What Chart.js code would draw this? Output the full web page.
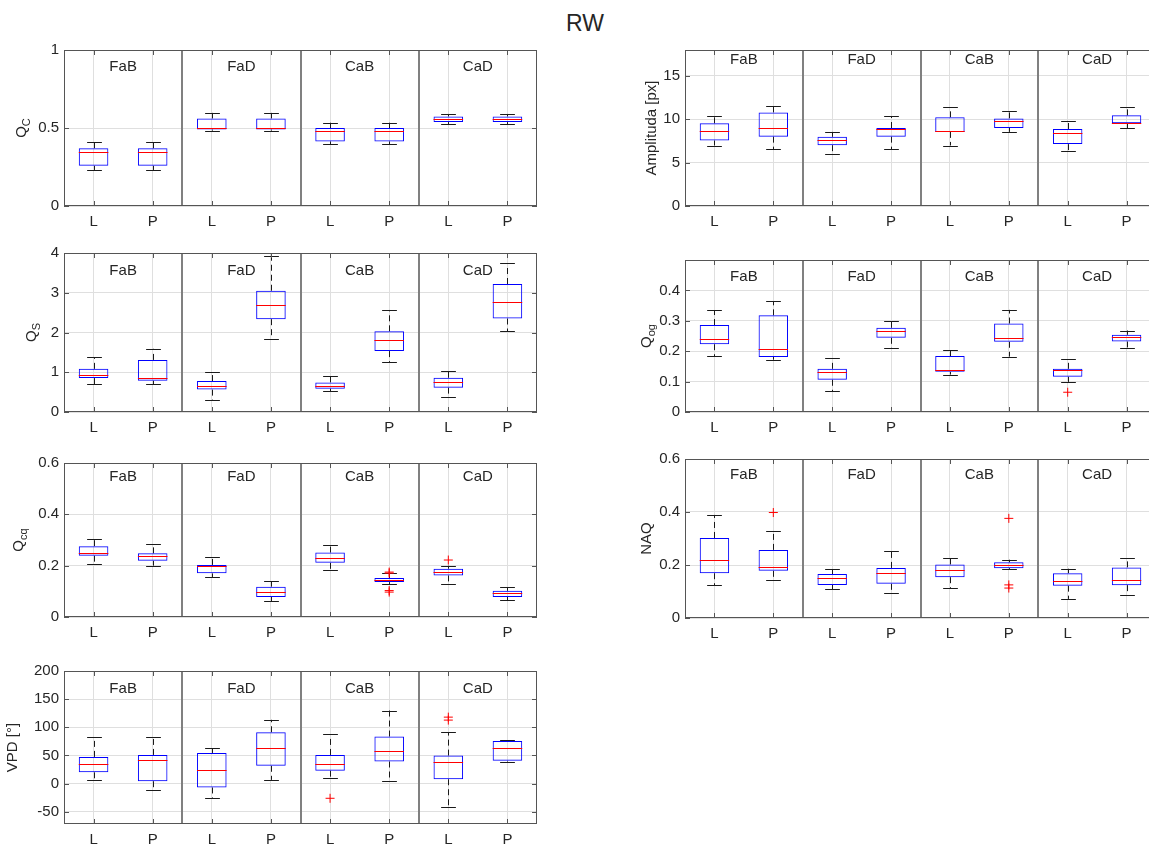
<!DOCTYPE html>
<html><head><meta charset="utf-8">
<script src="https://cdn.jsdelivr.net/npm/chart.js@4"></script>
<style>
html,body{margin:0;padding:0;width:1149px;height:845px;overflow:hidden;background:#fff;}
.pane{position:absolute;}
#title{position:absolute;left:485px;top:12px;width:200px;text-align:center;font:23px 'Liberation Sans',Arial,sans-serif;line-height:23px;color:#262626;}
</style></head><body>
<div id="title">RW</div>
<script>
// ---------- data ----------
const groups = ['FaB','FaD','CaB','CaD'];
const tickLabels = ['L','P','L','P','L','P','L','P'];

// Q_C
const qcTicks = [0, 0.5, 1];
const qcLow  = [0.231,0.231,0.483,0.483,0.397,0.397,0.525,0.525];
const qcQ1   = [0.258,0.258,0.490,0.490,0.414,0.414,0.538,0.538];
const qcMed  = [0.345,0.345,0.500,0.500,0.483,0.483,0.559,0.559];
const qcQ3   = [0.370,0.370,0.561,0.561,0.500,0.500,0.574,0.574];
const qcHigh = [0.410,0.410,0.597,0.597,0.534,0.534,0.590,0.590];
const qcOut  = [];

// Amplituda
const ampTicks = [0, 5, 10, 15];
const ampLow  = [6.98,6.53,6.03,6.53,6.98,8.55,6.37,9.00];
const ampQ1   = [7.56,8.00,7.02,8.00,8.55,9.00,7.14,9.54];
const ampMed  = [8.63,9.00,7.56,8.85,8.63,9.77,8.40,9.58];
const ampQ3   = [9.54,10.80,7.98,9.00,10.23,10.11,8.89,10.46];
const ampHigh = [10.34,11.49,8.55,10.34,11.37,10.99,9.80,11.37];
const ampOut  = [];

// Q_S
const qsTicks = [0, 1, 2, 3, 4];
const qsLow  = [0.704,0.704,0.298,1.84,0.522,1.259,0.389,2.037];
const qsQ1   = [0.853,0.787,0.563,2.335,0.588,1.532,0.613,2.352];
const qsMed  = [0.936,0.845,0.646,2.70,0.663,1.805,0.762,2.774];
const qsQ3   = [1.085,1.31,0.778,3.05,0.745,2.03,0.861,3.22];
const qsHigh = [1.375,1.59,1.0,3.925,0.911,2.567,1.035,3.743];
const qsOut  = [];

// Q_og
const qogTicks = [0, 0.1, 0.2, 0.3, 0.4];
const qogLow  = [0.184,0.172,0.069,0.210,0.123,0.182,0.099,0.212];
const qogQ1   = [0.223,0.181,0.106,0.244,0.132,0.231,0.116,0.232];
const qogMed  = [0.239,0.206,0.130,0.265,0.138,0.242,0.137,0.248];
const qogQ3   = [0.286,0.318,0.142,0.277,0.184,0.291,0.142,0.254];
const qogHigh = [0.335,0.365,0.177,0.300,0.205,0.336,0.173,0.268];
const qogOut  = [[7,0.065]];

// Q_cq
const qcqTicks = [0, 0.2, 0.4, 0.6];
const qcqLow  = [0.208,0.200,0.156,0.061,0.183,0.127,0.129,0.065];
const qcqQ1   = [0.239,0.219,0.170,0.078,0.211,0.136,0.162,0.078];
const qcqMed  = [0.249,0.238,0.197,0.098,0.228,0.143,0.176,0.092];
const qcqQ3   = [0.276,0.248,0.203,0.118,0.251,0.152,0.188,0.102];
const qcqHigh = [0.304,0.283,0.233,0.139,0.280,0.171,0.200,0.116];
const qcqOut  = [[6,0.175],[6,0.171],[6,0.103],[6,0.097],[7,0.222]];

// NAQ
const naqTicks = [0, 0.2, 0.4, 0.6];
const naqLow  = [0.124,0.142,0.108,0.093,0.113,0.184,0.072,0.087];
const naqQ1   = [0.169,0.178,0.125,0.129,0.154,0.188,0.122,0.124];
const naqMed  = [0.217,0.194,0.152,0.170,0.183,0.199,0.139,0.142];
const naqQ3   = [0.302,0.257,0.166,0.189,0.202,0.210,0.169,0.191];
const naqHigh = [0.389,0.327,0.185,0.252,0.226,0.220,0.186,0.227];
const naqOut  = [[2,0.398],[6,0.376],[6,0.125],[6,0.113]];

// VPD
const vpdTicks = [-50, 0, 50, 100, 150, 200];
const vpdLow  = [7.0,-12.3,-26.3,6.4,9.3,5.3,-41.5,39.1];
const vpdQ1   = [19.9,4.1,-7.0,31.5,22.8,39.1,7.6,40.3];
const vpdMed  = [35.0,42.1,24.5,63.7,35.0,57.2,37.4,63.1];
const vpdQ3   = [47.3,50.8,54.3,91.1,50.8,83.5,49.6,75.4];
const vpdHigh = [81.8,82.4,62.5,113.3,87.6,129.7,91.1,77.1];
const vpdOut  = [[5,-26.3],[7,118.0],[7,112.7]];

// ---------- layout ----------
const FONT = "'Liberation Sans', Arial, sans-serif";
const TXT = '#262626';
Chart.defaults.font.family = FONT;

const panels = [
 {left:64, top:48, w:473, h:158, yMin:0, yMax:1, yTicks:qcTicks, lab:['Q','C'], gap:38.5, gy:0.89,
  low:qcLow,q1:qcQ1,med:qcMed,q3:qcQ3,high:qcHigh,out:qcOut},
 {left:685, top:48, w:471, h:158, yMin:0, yMax:18, yTicks:ampTicks, lab:['Amplituda [px]',''], gap:29, gy:16.9,
  low:ampLow,q1:ampQ1,med:ampMed,q3:ampQ3,high:ampHigh,out:ampOut},
 {left:64, top:251, w:473, h:161, yMin:0, yMax:4, yTicks:qsTicks, lab:['Q','S'], gap:28, gy:3.55,
  low:qsLow,q1:qsQ1,med:qsMed,q3:qsQ3,high:qsHigh,out:qsOut},
 {left:685, top:258, w:471, h:154, yMin:0, yMax:0.5, yTicks:qogTicks, lab:['Q','og'], gap:34, gy:0.445,
  low:qogLow,q1:qogQ1,med:qogMed,q3:qogQ3,high:qogHigh,out:qogOut},
 {left:64, top:461, w:473, h:156, yMin:0, yMax:0.6, yTicks:qcqTicks, lab:['Q','cq'], gap:41, gy:0.545,
  low:qcqLow,q1:qcqQ1,med:qcqMed,q3:qcqQ3,high:qcqHigh,out:qcqOut},
 {left:685, top:457, w:471, h:161, yMin:0, yMax:0.6, yTicks:naqTicks, lab:['NAQ',''], gap:34, gy:0.54,
  low:naqLow,q1:naqQ1,med:naqMed,q3:naqQ3,high:naqHigh,out:naqOut},
 {left:64, top:669, w:473, h:155, yMin:-72, yMax:200, yTicks:vpdTicks, lab:['VPD [°]',''], gap:47, gy:168,
  low:vpdLow,q1:vpdQ1,med:vpdMed,q3:vpdQ3,high:vpdHigh,out:vpdOut}
];

const PADT = 12, PADR = 12, YW = 64, XH = 40;

function makePlugin(p) {
  return {
    id: 'boxextras',
    beforeDatasetsDraw(chart) {
      const {ctx, chartArea:a, scales:{x, y}} = chart;
      ctx.save();
      // group separators
      ctx.strokeStyle = '#808080'; ctx.lineWidth = 2;
      [2.5, 4.5, 6.5].forEach(v => {
        const px = Math.round(x.getPixelForValue(v));
        ctx.beginPath(); ctx.moveTo(px, a.top); ctx.lineTo(px, a.bottom); ctx.stroke();
      });
      // whiskers
      ctx.strokeStyle = '#1a1a1a'; ctx.lineWidth = 1;
      p.low.forEach((lo, i) => {
        const v = i + 1;
        const cx = Math.round(x.getPixelForValue(v)) + 0.5;
        const hw = x.getPixelForValue(v + 0.125) - x.getPixelForValue(v);
        const yl = y.getPixelForValue(lo), yq1 = y.getPixelForValue(p.q1[i]);
        const yq3 = y.getPixelForValue(p.q3[i]), yh = y.getPixelForValue(p.high[i]);
        ctx.setLineDash([6, 4]);
        ctx.beginPath(); ctx.moveTo(cx, yq3); ctx.lineTo(cx, yh); ctx.stroke();
        ctx.beginPath(); ctx.moveTo(cx, yq1); ctx.lineTo(cx, yl); ctx.stroke();
        ctx.setLineDash([]);
        ctx.beginPath(); ctx.moveTo(cx - hw, Math.round(yh) + 0.5); ctx.lineTo(cx + hw, Math.round(yh) + 0.5); ctx.stroke();
        ctx.beginPath(); ctx.moveTo(cx - hw, Math.round(yl) + 0.5); ctx.lineTo(cx + hw, Math.round(yl) + 0.5); ctx.stroke();
      });
      ctx.restore();
    },
    afterDatasetsDraw(chart) {
      const {ctx, chartArea:a, scales:{x, y}} = chart;
      ctx.save();
      // medians
      ctx.strokeStyle = '#ff0000'; ctx.lineWidth = 1;
      p.med.forEach((m, i) => {
        const v = i + 1;
        const py = Math.round(y.getPixelForValue(m)) + 0.5;
        ctx.beginPath(); ctx.moveTo(x.getPixelForValue(v - 0.25), py); ctx.lineTo(x.getPixelForValue(v + 0.25), py); ctx.stroke();
      });
      // frame
      ctx.strokeStyle = '#555555'; ctx.lineWidth = 1;
      ctx.strokeRect(a.left + 0.5, a.top + 0.5, a.right - a.left - 1, a.bottom - a.top - 1);
      // inward tick marks
      ctx.beginPath();
      p.yTicks.forEach(t => {
        const py = Math.round(y.getPixelForValue(t)) + 0.5;
        ctx.moveTo(a.left, py); ctx.lineTo(a.left + 5, py);
        ctx.moveTo(a.right, py); ctx.lineTo(a.right - 5, py);
      });
      tickLabels.forEach((t, i) => {
        const px = Math.round(x.getPixelForValue(i + 1)) + 0.5;
        ctx.moveTo(px, a.bottom); ctx.lineTo(px, a.bottom - 5);
        ctx.moveTo(px, a.top); ctx.lineTo(px, a.top + 5);
      });
      ctx.stroke();
      // group labels
      ctx.fillStyle = TXT; ctx.font = '15px ' + FONT;
      ctx.textAlign = 'center'; ctx.textBaseline = 'middle';
      groups.forEach((g, k) => {
        ctx.fillText(g, x.getPixelForValue(2 * k + 1.5), y.getPixelForValue(p.gy));
      });
      // y-axis label with subscript
      ctx.translate(a.left - p.gap, (a.top + a.bottom) / 2);
      ctx.rotate(-Math.PI / 2);
      ctx.textAlign = 'left'; ctx.textBaseline = 'alphabetic';
      ctx.font = '15px ' + FONT;
      const wm = ctx.measureText(p.lab[0]).width;
      ctx.font = '11px ' + FONT;
      const ws = p.lab[1] ? ctx.measureText(p.lab[1]).width : 0;
      const x0 = -(wm + ws) / 2;
      ctx.font = '15px ' + FONT;
      ctx.fillText(p.lab[0], x0, 0);
      if (p.lab[1]) { ctx.font = '11px ' + FONT; ctx.fillText(p.lab[1], x0 + wm, 4); }
      ctx.restore();
    }
  };
}

panels.forEach(p => {
  const div = document.createElement('div');
  div.className = 'pane';
  const cw = p.w + YW + PADR, ch = p.h + PADT + XH;
  div.style.left = (p.left - YW) + 'px';
  div.style.top = (p.top - PADT) + 'px';
  div.style.width = cw + 'px'; div.style.height = ch + 'px';
  const cv = document.createElement('canvas');
  cv.width = cw; cv.height = ch;
  cv.style.width = cw + 'px'; cv.style.height = ch + 'px';
  div.appendChild(cv);
  document.body.appendChild(div);

  new Chart(cv, {
    type: 'bar',
    data: {
      datasets: [
        {type: 'bar', data: p.q1.map((q, i) => ({x: i + 1, y: [q, p.q3[i]]})),
         backgroundColor: 'rgba(0,0,0,0)', borderColor: '#0000ff', borderWidth: 1,
         borderSkipped: false, barPercentage: 0.5, categoryPercentage: 1, order: 2},
        {type: 'scatter', data: p.out.map(o => ({x: o[0], y: o[1]})),
         pointStyle: 'cross', radius: 4.5, borderColor: '#ff0000', backgroundColor: '#ff0000',
         borderWidth: 1, order: 1}
      ]
    },
    options: {
      responsive: false, animation: false, events: [],
      layout: {padding: {top: PADT, right: PADR, left: 0, bottom: 0}},
      plugins: {legend: {display: false}, tooltip: {enabled: false}},
      scales: {
        x: {type: 'linear', min: 0.5, max: 8.5, offset: false,
            afterBuildTicks: s => { s.ticks = tickLabels.map((t, i) => ({value: i + 1})); },
            afterFit: s => { s.height = XH; },
            ticks: {callback: v => tickLabels[v - 1], font: {size: 15}, color: TXT, padding: 7,
                    maxRotation: 0, autoSkip: false},
            grid: {color: '#dfdfdf', drawTicks: false, offset: false},
            border: {display: false}},
        y: {type: 'linear', min: p.yMin, max: p.yMax,
            afterBuildTicks: s => { s.ticks = p.yTicks.map(v => ({value: v})); },
            afterFit: s => { s.width = YW; },
            ticks: {callback: v => String(v), font: {size: 15}, color: TXT, padding: 5, autoSkip: false},
            grid: {color: '#dfdfdf', drawTicks: false},
            border: {display: false}}
      }
    },
    plugins: [makePlugin(p)]
  });
});
</script>
</body></html>
